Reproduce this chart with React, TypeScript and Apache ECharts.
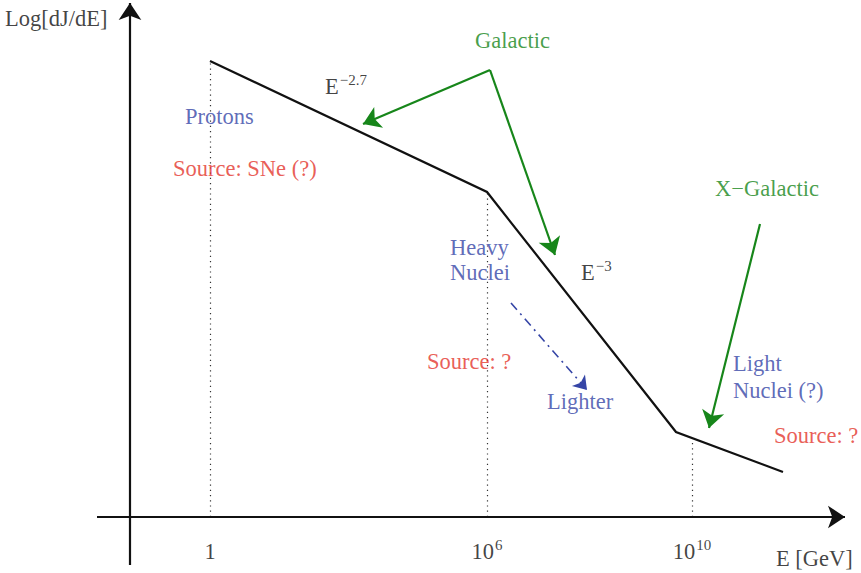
import React, { useEffect, useRef } from "react";
import * as echarts from "echarts";

// Schematic coordinates: x = distance right of the energy-axis origin, y = height above the energy axis
const spectrumX = [80, 357, 546, 653];
const spectrumY = [456, 325, 85, 45];

const tickLabels = ["1", "10^6", "10^10"];
const tickX = [80, 357, 562];
const guideTop = [455, 325, 79];

const galacticArrows = [
  [[360, 447], [233, 393]],
  [[360, 447], [425, 262]],
];
const xGalacticArrow = [[630, 293], [579, 89]];
const lighterArrow = [[381, 214], [457, 127]];

const axisLines = [
  [[-33, 0], [715, 0]],
  [[0, -48], [0, 514]],
];

const GREEN = "#17861a";
const BLUE = "#3545a6";
const RED = "#e3342b";
const FONT = "Liberation Serif";
const FS = 22.5;

type Ann = { t: string; x: number; y: number; c: string };

const annotations: Ann[] = [
  { t: "Log[dJ/dE]", x: -125, y: 499, c: "#111" },
  { t: "Galactic", x: 345, y: 477, c: GREEN },
  { t: "{b|E}{s|−2.7}", x: 195, y: 432, c: "#111" },
  { t: "Protons", x: 55, y: 401, c: BLUE },
  { t: "Source: SNe (?)", x: 43, y: 349, c: RED },
  { t: "Heavy", x: 320, y: 270, c: BLUE },
  { t: "Nuclei", x: 320, y: 245, c: BLUE },
  { t: "{b|E}{s|−3}", x: 451, y: 246, c: "#111" },
  { t: "Source: ?", x: 297, y: 156, c: RED },
  { t: "Lighter", x: 417, y: 116, c: BLUE },
  { t: "X−Galactic", x: 585, y: 329, c: GREEN },
  { t: "Light", x: 603, y: 154, c: BLUE },
  { t: "Nuclei (?)", x: 603, y: 127, c: BLUE },
  { t: "Source: ?", x: 644, y: 82, c: RED },
  { t: "E [GeV]", x: 646, y: -41, c: "#111" },
];

export default function App() {
  const ref = useRef<HTMLDivElement>(null);
  useEffect(() => {
    if (!ref.current) return;
    const chart = echarts.init(ref.current, null, { renderer: "svg" });

    const rich = {
      b: { fontFamily: FONT, fontSize: FS, color: "#111", lineHeight: 25, verticalAlign: "bottom" as const },
      s: { fontFamily: FONT, fontSize: 15, color: "#111", lineHeight: 25, verticalAlign: "top" as const, padding: [0, 0, 0, 1] },
    };

    const textPoint = (a: Ann) => ({
      value: [a.x, a.y],
      label: {
        show: true,
        formatter: a.t,
        color: a.c,
        fontFamily: FONT,
        fontSize: FS,
        position: [0, 0],
        align: "left",
        verticalAlign: "middle",
        rich,
      },
    });

    const tickPoints = tickLabels.map((lab, i) => {
      const parts = lab.split("^");
      const f = parts.length > 1 ? `{b|${parts[0]}}{s|${parts[1]}}` : `{b|${parts[0]}}`;
      return {
        value: [tickX[i], -33],
        label: {
          show: true,
          formatter: f,
          position: [0, 0],
          align: "center",
          verticalAlign: "middle",
          rich,
        },
      };
    });

    const arrowItem = (c: number[][], color: string, width: number, type: any = "solid") => ({
      coords: c,
      lineStyle: { color, width, type, opacity: 1, curveness: 0 },
    });

    chart.setOption({
      animation: false,
      grid: { left: 0, right: 0, top: 0, bottom: 0 },
      xAxis: { type: "value", min: -130, max: 731, show: false },
      yAxis: { type: "value", min: -56, max: 517, show: false },
      series: [
        {
          type: "lines",
          coordinateSystem: "cartesian2d",
          symbol: ["none", "arrow"],
          symbolSize: [13, 17],
          data: axisLines.map((c) => arrowItem(c, "#111", 2.2)),
          z: 3,
        },
        {
          type: "lines",
          coordinateSystem: "cartesian2d",
          symbol: ["none", "none"],
          data: tickX.map((x, i) =>
            arrowItem([[x, 0], [x, guideTop[i]]], "#333", 1.2, [1.2, 4])
          ),
          z: 2,
        },
        {
          type: "line",
          data: spectrumX.map((x, i) => [x, spectrumY[i]]),
          showSymbol: false,
          symbol: "none",
          lineStyle: { color: "#111", width: 2.2, join: "miter" },
          z: 4,
        },
        {
          type: "lines",
          coordinateSystem: "cartesian2d",
          symbol: ["none", "arrow"],
          symbolSize: [12, 17],
          data: [
            ...galacticArrows.map((c) => arrowItem(c, GREEN, 2.2)),
            arrowItem(xGalacticArrow, GREEN, 2.2),
          ],
          z: 5,
        },
        {
          type: "lines",
          coordinateSystem: "cartesian2d",
          symbol: ["none", "arrow"],
          symbolSize: [10, 13],
          data: [arrowItem(lighterArrow, BLUE, 1.6, [9, 5, 2, 5])],
          z: 5,
        },
        {
          type: "scatter",
          symbolSize: 0,
          silent: true,
          data: [...annotations.map(textPoint), ...tickPoints],
          z: 6,
        },
      ],
    });
    return () => chart.dispose();
  }, []);
  return (
    <div
      ref={ref}
      style={{ position: "absolute", left: 0, top: 0, width: 861, height: 573, background: "#fff" }}
    />
  );
}
